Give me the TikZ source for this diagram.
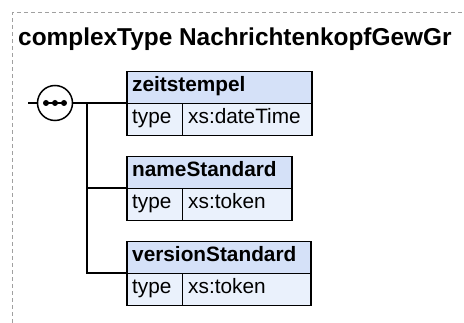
\documentclass[tikz,border=0pt]{standalone}
\usepackage{fontspec}
\setmainfont{Liberation Sans}
\definecolor{hdrfill}{RGB}{213,225,248}
\definecolor{rowfill}{RGB}{234,241,252}
\definecolor{framegray}{RGB}{160,160,160}
\tikzset{
  hdrbox/.style={draw=black, line width=1.5pt, fill=hdrfill, anchor=north west, inner sep=0pt, minimum height=32pt},
  rowbox/.style={draw=black, line width=1.5pt, fill=rowfill, anchor=north west, inner sep=0pt, minimum height=32pt},
  lbl/.style={anchor=base west, inner sep=0pt, font=\fontsize{20.8}{24}\selectfont},
  hlbl/.style={lbl, font=\fontsize{20.8}{24}\selectfont\bfseries},
  conn/.style={draw=black, line width=1.5pt},
  frame/.style={draw=framegray, line width=1pt, dash pattern=on 4pt off 3pt}
}
\begin{document}
\begin{tikzpicture}[x=1pt,y=-1pt]
\useasboundingbox (0,0) rectangle (464,323);
% frame
\draw[frame] (12,323) -- (12,13) -- (464,13);
\node[anchor=base west, inner sep=0pt, font=\fontsize{24.4}{29}\selectfont\bfseries] (title) at (18,46) {complexType NachrichtenkopfGewGr};
% sequence compositor
\coordinate (start) at (28,103);
\node[circle, draw=black, line width=1.5pt, fill=white, minimum size=35pt, inner sep=0pt] (seq) at (55,103) {};
\draw[line width=2pt] (46,103) -- (64,103);
\foreach \dx in {46,55,64} \fill (\dx,103) circle (3pt);
\coordinate (bus) at (87,103);
% zeitstempel
\node[hdrbox, minimum width=185pt] (zh) at (126,71) {};
\node[rowbox, minimum width=55.5pt] (zt) at (126,103) {};
\node[rowbox, minimum width=129.5pt] (zv) at (181.5,103) {};
\node[hlbl] (zhl) at (132,92) {zeitstempel};
\node[lbl] (ztl) at (132,124) {type};
\node[lbl] (zvl) at (188,124) {xs:dateTime};
% nameStandard
\node[hdrbox, minimum width=165pt] (nh) at (126,156) {};
\node[rowbox, minimum width=55.5pt] (nt) at (126,188) {};
\node[rowbox, minimum width=109.5pt] (nv) at (181.5,188) {};
\node[hlbl] (nhl) at (132,177) {nameStandard};
\node[lbl] (ntl) at (132,209) {type};
\node[lbl] (nvl) at (188,209) {xs:token};
% versionStandard
\node[hdrbox, minimum width=184pt] (vh) at (126,241) {};
\node[rowbox, minimum width=55.5pt] (vt) at (126,273) {};
\node[rowbox, minimum width=128.5pt] (vv) at (181.5,273) {};
\node[hlbl] (vhl) at (132,262) {versionStandard};
\node[lbl] (vtl) at (132,294) {type};
\node[lbl] (vvl) at (188,294) {xs:token};
% connectors
\draw[conn] (start) -- (seq.west);
\draw[conn] (seq.east) -- (zt.north west);
\draw[conn] (bus) |- (nt.north west);
\draw[conn] (bus) |- (vt.north west);
\end{tikzpicture}
\end{document}
